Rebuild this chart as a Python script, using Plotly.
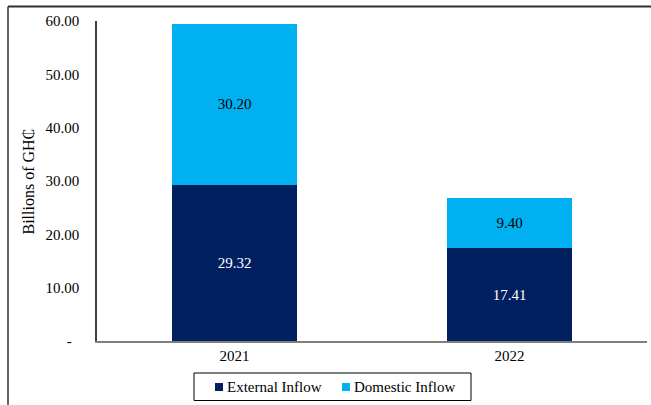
import plotly.graph_objects as go

# Inflows by year, billions of GH₵
years = ["2021", "2022"]
external_inflow = [29.32, 17.41]
domestic_inflow = [30.20, 9.40]
series_names = ["External Inflow", "Domestic Inflow"]

y_tick_vals = [0, 10, 20, 30, 40, 50, 60]
y_tick_text = ["-\u00a0\u00a0", "10.00", "20.00", "30.00", "40.00", "50.00", "60.00"]

FONT = "Liberation Serif"
DARK = "#002060"
LIGHT = "#00B0F0"
COLORS = [DARK, LIGHT]

W, H = 651, 405
L, R, T, B = 97, 4, 21, 64
pw, ph = W - L - R, H - T - B


def px_x(px):
    return (px - L) / pw


def px_y(py):
    return (H - B - py) / ph


fig = go.Figure()
fig.add_trace(go.Bar(
    name=series_names[0], x=years, y=external_inflow,
    marker=dict(color=DARK, line=dict(width=0)),
    text=[f"{v:.2f}" for v in external_inflow], textposition="inside",
    insidetextanchor="middle",
    textfont=dict(family=FONT, size=15, color="white"),
))
fig.add_trace(go.Bar(
    name=series_names[1], x=years, y=domestic_inflow,
    marker=dict(color=LIGHT, line=dict(width=0)),
    text=[f"{v:.2f}" for v in domestic_inflow], textposition="inside",
    insidetextanchor="middle",
    textfont=dict(family=FONT, size=15, color="black"),
))

# Framed legend below the plot: small square swatch right before each label
shapes = [
    dict(type="rect", xref="paper", yref="paper",
         x0=px_x(194), x1=px_x(471), y0=px_y(373), y1=px_y(400.5),
         line=dict(color="#000000", width=1), fillcolor="white"),
]
annotations = []
legend_starts = [215, 342]
for name, color, sx in zip(series_names, COLORS, legend_starts):
    shapes.append(dict(type="rect", xref="paper", yref="paper",
                       x0=px_x(sx), x1=px_x(sx + 8),
                       y0=px_y(383), y1=px_y(391),
                       line=dict(width=0), fillcolor=color))
    annotations.append(dict(text=name, xref="paper", yref="paper",
                            x=px_x(sx + 10), y=px_y(387),
                            xanchor="left", yanchor="middle", showarrow=False,
                            font=dict(family=FONT, size=15, color="black")))

annotations.append(dict(
    text="Billions of GH₵", textangle=-90,
    xref="paper", yref="paper", x=px_x(28), y=px_y(181.5),
    xanchor="center", yanchor="middle", showarrow=False,
    font=dict(family=FONT, size=16, color="black"),
))

# Outer frame (left and top edges)
shapes += [
    dict(type="line", xref="paper", yref="paper",
         x0=px_x(8), x1=px_x(8), y0=px_y(6.5), y1=px_y(405),
         line=dict(color="#303030", width=1.5)),
    dict(type="line", xref="paper", yref="paper",
         x0=px_x(8), x1=px_x(651), y0=px_y(6.5), y1=px_y(6.5),
         line=dict(color="#303030", width=2)),
]

fig.update_layout(
    width=W, height=H,
    margin=dict(l=L, r=R, t=T, b=B, autoexpand=False),
    barmode="stack", bargap=0.545,
    plot_bgcolor="white", paper_bgcolor="white",
    font=dict(family=FONT, size=15, color="black"),
    showlegend=False,
    xaxis=dict(
        showline=True, linecolor="#7f7f7f", linewidth=1.5,
        ticks="", showgrid=False, tickfont=dict(family=FONT, size=15),
        automargin=False,
    ),
    yaxis=dict(
        range=[0, 60], tickvals=y_tick_vals, ticktext=y_tick_text,
        showline=True, linecolor="#404040", linewidth=1.5,
        showgrid=False, zeroline=False,
        ticks="outside", ticklen=13, tickcolor="rgba(0,0,0,0)",
        tickfont=dict(family=FONT, size=15), automargin=False,
    ),
    annotations=annotations,
    shapes=shapes,
)

fig.write_html("out.html")
